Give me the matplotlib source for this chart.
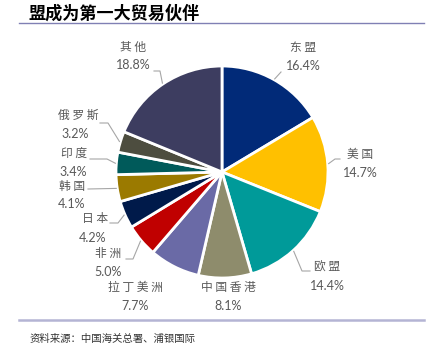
import numpy as np
import matplotlib
matplotlib.use('Agg')
import matplotlib.pyplot as plt

# data
partners = ['东盟', '美国', '欧盟', '中国香港', '拉丁美洲', '非洲', '日本', '韩国', '印度', '俄罗斯', '其他']
shares = [16.4, 14.7, 14.4, 8.1, 7.7, 5.0, 4.2, 4.1, 3.4, 3.2, 18.8]
colors = ['#012a78', '#ffc000', '#009a99', '#8e8c6c', '#6a6aa6', '#c00000',
          '#001a4a', '#9b7a00', '#005a5a', '#4d4d3f', '#3d3d60']

# layout in pixel coords (y from top)
W, H = 431, 356
cx, cy, R = 222, 172, 106
name_pos = [(303, 47), (360, 155), (327, 267), (228, 287), (135, 287), (108, 253),
            (95, 219), (72, 186), (74, 153), (78, 115), (133, 47)]
pct_pos = [(303, 66), (360, 173), (327, 286), (228, 306), (135, 306), (108, 272),
           (93, 238), (72, 204), (73, 172), (75, 134), (133, 65)]
leaders = [[(281, 72)], [(335, 159), (340, 159)], [(302, 271), (310, 271)], None, None,
           [(133, 259), (126, 259)], [(118, 223), (110, 223)], [(88, 189)],
           [(107, 159), (90, 159)], [(108, 123), (100, 123)], [(160, 71), (154, 71)]]

def Y(py):
    return H - py

fig = plt.figure(figsize=(W / 100, H / 100), dpi=100)
ax = fig.add_axes([0, 0, 1, 1])

ax.pie(shares, colors=colors, startangle=90, counterclock=False,
       center=(cx, Y(cy)), radius=R,
       wedgeprops={'edgecolor': 'white', 'linewidth': 2})
ax.set_xlim(0, W)
ax.set_ylim(0, H)
ax.set_aspect('equal')
ax.axis('off')

cjk = ['Noto Sans CJK SC', 'DejaVu Sans']
grey = '#595959'

# labels and leader lines
cum = np.cumsum([0] + shares)
for i, name in enumerate(partners):
    mid = 90 - (cum[i] + shares[i] / 2) * 3.6
    if leaders[i] is not None:
        sx = cx + (R + 1) * np.cos(np.radians(mid))
        sy = cy - (R + 1) * np.sin(np.radians(mid))
        xs = [sx] + [p[0] for p in leaders[i]]
        ys = [Y(sy)] + [Y(p[1]) for p in leaders[i]]
        ax.plot(xs, ys, color='#a6a6a6', lw=0.8)
    nx, ny = name_pos[i]
    ax.text(nx, Y(ny), ' '.join(name), family=cjk, fontsize=8.5, color=grey,
            ha='center', va='center')
    px, py = pct_pos[i]
    ax.text(px, Y(py), f'{shares[i]:.1f}%', family='Lato', fontsize=9, color=grey,
            ha='center', va='center')

# title, rules and source
fig.text(28 / W, 1 - 14 / H, '盟成为第一大贸易伙伴', family=cjk, fontsize=12.3,
         fontweight='bold', color='black', ha='left', va='center')
ax.plot([19, 424], [Y(22.5), Y(22.5)], color='#8080b4', lw=1)
ax.plot([19, 424], [Y(320), Y(320)], color='#b4b4d4', lw=1.8)
fig.text(30 / W, 1 - 339 / H, '资料来源：中国海关总署、浦银国际', family=cjk, fontsize=7.5,
         color='#333333', ha='left', va='center')

fig.savefig('out.png', dpi=100)
